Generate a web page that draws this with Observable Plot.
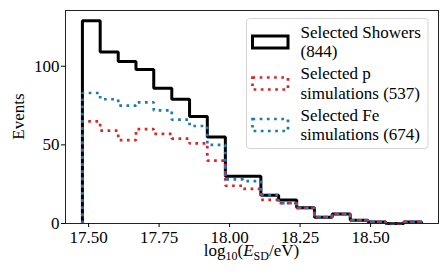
<!DOCTYPE html>
<html><head><meta charset="utf-8">
<script src="https://cdn.jsdelivr.net/npm/d3@7"></script>
<script src="https://cdn.jsdelivr.net/npm/@observablehq/plot@0.6"></script>
<style>
body{margin:0;background:#fff;}
#chart{position:relative;width:447px;height:280px;}
</style></head><body><div id="chart"></div>
<script>
// Bin edges of log10(E_SD/eV)
const binEdges = [17.478, 17.541, 17.605, 17.668, 17.731, 17.795, 17.858, 17.921, 17.985, 18.048,
                  18.111, 18.174, 18.238, 18.301, 18.364, 18.428, 18.491, 18.554, 18.618, 18.681];
// Counts per bin
const showers    = [129, 109, 103, 98, 86, 79, 68, 55, 30, 30, 18, 15, 10, 4, 6, 2, 1, 0, 1];
const protonSims = [65, 59, 53, 60, 57, 54, 51, 40, 24, 22, 15, 13, 10, 4, 6, 2, 1, 0, 1];
const ironSims   = [83, 79, 75, 77, 72, 66, 62, 50, 28, 27, 18, 13, 10, 4, 6, 2, 1, 0, 1];
const seriesLabels = [["Selected Showers", "(844)"], ["Selected p", "simulations (537)"], ["Selected Fe", "simulations (674)"]];
const seriesColors = ["#000000", "#d62728", "#1f77b4"];
const xTicks = [17.5, 17.75, 18.0, 18.25, 18.5];
const yTicks = [0, 50, 100];
const xDomain = [17.418, 18.741];
const yDomain = [0, 135.45];

function stepPoints(vals) {
  const n = vals.length;
  const pts = [{x: binEdges[0], y: 0}];
  vals.forEach((v, i) => pts.push({x: binEdges[i], y: v}));
  pts.push({x: binEdges[n], y: vals[n - 1]});
  pts.push({x: binEdges[n], y: 0});
  return pts;
}

const font = "'Liberation Serif', 'Times New Roman', serif";

const plot = Plot.plot({
  width: 447, height: 280,
  marginLeft: 65, marginRight: 9, marginTop: 10, marginBottom: 57,
  style: {fontFamily: font, fontSize: "17px", color: "#000", background: "#fff"},
  x: {domain: xDomain},
  y: {domain: yDomain},
  marks: [
    Plot.line(stepPoints(showers), {x: "x", y: "y", curve: "step-after", stroke: seriesColors[0], strokeWidth: 3, strokeLinejoin: "miter", strokeLinecap: "butt"}),
    Plot.line(stepPoints(protonSims), {x: "x", y: "y", curve: "step-after", stroke: seriesColors[1], strokeWidth: 2.7, strokeDasharray: "2.7,4.5", strokeLinecap: "butt", strokeLinejoin: "miter"}),
    Plot.line(stepPoints(ironSims), {x: "x", y: "y", curve: "step-after", stroke: seriesColors[2], strokeWidth: 2.7, strokeDasharray: "2.7,4.5", strokeLinecap: "butt", strokeLinejoin: "miter"}),
    Plot.frame({stroke: "#222", strokeWidth: 1}),
    Plot.axisX({ticks: xTicks, tickFormat: d => d.toFixed(2), tickSize: 4, tickPadding: 3, label: null}),
    Plot.axisY({ticks: yTicks, tickFormat: d => String(d), tickSize: 4, tickPadding: 2, label: null})
  ]
});
document.getElementById("chart").appendChild(plot);

const svg = d3.select(plot);
// Axis labels
const xl = svg.append("text").attr("x", 251.5).attr("y", 256).attr("text-anchor", "middle")
  .attr("font-family", font).attr("font-size", 17).attr("fill", "#000");
xl.append("tspan").text("log");
xl.append("tspan").attr("font-size", 12).attr("dy", 4).text("10");
xl.append("tspan").attr("dy", -4).text("(");
xl.append("tspan").attr("font-style", "italic").text("E");
xl.append("tspan").attr("font-size", 12).attr("dy", 4).text("SD");
xl.append("tspan").attr("dy", -4).text("/eV)");

svg.append("text").attr("transform", "translate(24,116.5) rotate(-90)").attr("text-anchor", "middle")
  .attr("font-family", font).attr("font-size", 17).attr("fill", "#000").text("Events");

// Legend
const lg = svg.append("g").attr("text-anchor", "start");
lg.append("rect").attr("x", 246.5).attr("y", 18.5).attr("width", 181.5).attr("height", 130).attr("rx", 3)
  .attr("fill", "#fff").attr("fill-opacity", 0.8).attr("stroke", "#d4d4d4").attr("stroke-width", 1);
seriesLabels.forEach((lines, i) => {
  const y0 = 36 + i * 41.5;
  const r = lg.append("rect").attr("x", 252.5).attr("y", y0).attr("width", 35.5).attr("height", 12)
    .attr("fill", "none").attr("stroke", seriesColors[i]);
  if (i === 0) r.attr("stroke-width", 3).attr("stroke-linejoin", "miter");
  else r.attr("stroke-width", 2.7).attr("stroke-dasharray", "2.7,4.5");
  lines.forEach((t, j) => {
    lg.append("text").attr("x", 300.5).attr("y", 37.5 + i * 41.5 + j * 19.5).attr("text-anchor", "start")
      .attr("font-family", font).attr("font-size", 17).attr("fill", "#000").text(t);
  });
});
</script></body></html>
